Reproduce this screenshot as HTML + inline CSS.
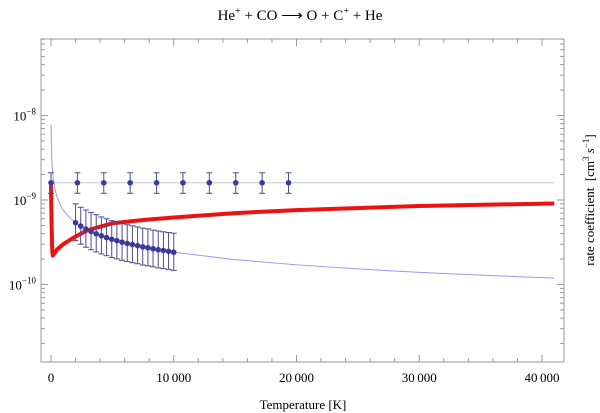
<!DOCTYPE html>
<html><head><meta charset="utf-8"><style>
body{margin:0;background:#fff}
svg{display:block;font-family:"Liberation Serif",serif}
</style></head><body>
<svg id="c" width="600" height="413" xmlns="http://www.w3.org/2000/svg">
<text x="300" y="20" text-anchor="middle" font-size="15">He<tspan dy="-6" font-size="10">+</tspan><tspan dy="6"> + CO ⟶ O + C</tspan><tspan dy="-6" font-size="10">+</tspan><tspan dy="6"> + He</tspan></text>
<text x="303" y="409" text-anchor="middle" font-size="13">Temperature [K]</text>
<text transform="translate(594,200) rotate(-90)" text-anchor="middle" font-size="13">rate coefficient&#160;&#160;[cm<tspan dy="-5" font-size="9">3</tspan><tspan dy="5" font-style="italic">&#160;s</tspan><tspan dy="-5" font-size="9">−1</tspan><tspan dy="5">]</tspan></text>
<g id="plot"></g>
</svg>
<script>
const expT=[0,2150,4300,6450,8600,10750,12900,15050,17200,19350];
const expK=[1.6e-9,1.6e-9,1.6e-9,1.6e-9,1.6e-9,1.6e-9,1.6e-9,1.6e-9,1.6e-9,1.6e-9];
const expHi=[2.1e-9,2.1e-9,2.1e-9,2.1e-9,2.1e-9,2.1e-9,2.1e-9,2.1e-9,2.1e-9,2.1e-9];
const expLo=[1.2e-9,1.2e-9,1.2e-9,1.2e-9,1.2e-9,1.2e-9,1.2e-9,1.2e-9,1.2e-9,1.2e-9];
const thT=[2000,2421,2842,3263,3684,4105,4526,4947,5368,5789,6210,6631,7052,7473,7894,8315,8736,9157,9578,10000];
const thK=[5.4e-10,4.91e-10,4.53e-10,4.23e-10,3.98e-10,3.77e-10,3.59e-10,3.43e-10,3.3e-10,3.17e-10,3.06e-10,2.97e-10,2.88e-10,2.79e-10,2.72e-10,2.65e-10,2.58e-10,2.52e-10,2.47e-10,2.41e-10];
const thHi=[9.0e-10,8.2e-10,7.6e-10,7.1e-10,6.7e-10,6.3e-10,6.0e-10,5.7e-10,5.5e-10,5.3e-10,5.1e-10,4.95e-10,4.8e-10,4.65e-10,4.55e-10,4.4e-10,4.3e-10,4.2e-10,4.12e-10,4.05e-10];
const thLo=[3.3e-10,3.0e-10,2.76e-10,2.58e-10,2.43e-10,2.3e-10,2.19e-10,2.09e-10,2.01e-10,1.93e-10,1.87e-10,1.81e-10,1.76e-10,1.7e-10,1.66e-10,1.62e-10,1.57e-10,1.54e-10,1.51e-10,1.47e-10];
const fitT=[10,20,50,100,200,400,700,1000,1500,2000,3000,5000,7500,10000,15000,20000,25000,30000,35000,41000];
const fitK=[7.8e-9,5.4e-9,3.4e-9,2.4e-9,1.7e-9,1.2e-9,9.1e-10,7.6e-10,6.2e-10,5.4e-10,4.4e-10,3.4e-10,2.79e-10,2.41e-10,1.97e-10,1.71e-10,1.53e-10,1.39e-10,1.29e-10,1.19e-10];
const redT=[0,20,50,100,150,200,500,1000,2000,3000,5000,7500,10000,15000,20000,30000,41000];
const redK=[1.5e-9,9e-10,5e-10,2.5e-10,2.2e-10,2.25e-10,2.6e-10,3.0e-10,3.7e-10,4.4e-10,5.3e-10,5.8e-10,6.2e-10,7.0e-10,7.6e-10,8.5e-10,9.1e-10];
const refK=[1.6e-9];
const xTicks=[0,10000,20000,30000,40000];
const xTickLabels=["0","10\u2009000","20\u2009000","30\u2009000","40\u2009000"];
const yTickExp=[-8,-9,-10];

const L=41,R=564,T=39,B=362;
const x=t=>51+t*0.012275;
const y=k=>200-(Math.log10(k)+9)*84.5;
const NS="http://www.w3.org/2000/svg";
const g=document.getElementById('plot');
function mk(tag,a){const e=document.createElementNS(NS,tag);for(const k in a)e.setAttribute(k,a[k]);g.appendChild(e);return e;}

let fr=mk('rect',{x:L,y:T,width:R-L,height:B-T,fill:'none',stroke:'#999','stroke-width':1});


for(let t=-0;t<=41000;t+=2000){const major=t%10000===0;const len=major?7:4;
 mk('line',{x1:x(t),x2:x(t),y1:B,y2:B-len,stroke:'#999'});mk('line',{x1:x(t),x2:x(t),y1:T,y2:T+len,stroke:'#999'});}
xTicks.forEach((t,i)=>{const e=mk('text',{x:x(t),y:B+20,'text-anchor':'middle','font-size':13});e.textContent=xTickLabels[i];
 
 });
for(let d=-11;d<=-8;d++){for(let m=1;m<10;m++){const v=m*Math.pow(10,d);const yy=y(v);if(yy<T||yy>B)continue;const len=m===1?7:4;
 mk('line',{x1:L,x2:L+len,y1:yy,y2:yy,stroke:'#999'});mk('line',{x1:R,x2:R-len,y1:yy,y2:yy,stroke:'#999'});}}
yTickExp.forEach(d=>{const e=mk('text',{x:L-5,y:y(Math.pow(10,d))+5,'text-anchor':'end','font-size':13});
 e.innerHTML='10<tspan dy="-6" font-size="9">\u2212'+(-d)+'</tspan>';
 
 });
let rl=mk('line',{x1:x(0),x2:x(41000),y1:y(refK[0]),y2:y(refK[0]),stroke:'#c8c8d4','stroke-width':1});


let fc=mk('polyline',{points:fitT.map((t,i)=>x(t)+','+y(fitK[i])).join(' '),fill:'none',stroke:'#9999ee','stroke-width':1});


let rc=mk('polyline',{points:redT.map((t,i)=>x(t)+','+y(redK[i])).join(' '),fill:'none',stroke:'#ee1111','stroke-width':4,'stroke-linejoin':'round'});


function pts(Ts,Ks,His,Los,name){Ts.forEach((t,i)=>{const cx=x(t);
 mk('line',{x1:cx,x2:cx,y1:y(His[i]),y2:y(Los[i]),stroke:'#4a4a90','stroke-width':1});
 mk('line',{x1:cx-3,x2:cx+3,y1:y(His[i]),y2:y(His[i]),stroke:'#4a4a90'});
 mk('line',{x1:cx-3,x2:cx+3,y1:y(Los[i]),y2:y(Los[i]),stroke:'#4a4a90'});
 const c=mk('circle',{cx:cx,cy:y(Ks[i]),r:2.8,fill:'#3a3a9a'});
 
 });}
pts(thT,thK,thHi,thLo,'theory-point');
pts(expT,expK,expHi,expLo,'experiment-point');
</script>
</body></html>
